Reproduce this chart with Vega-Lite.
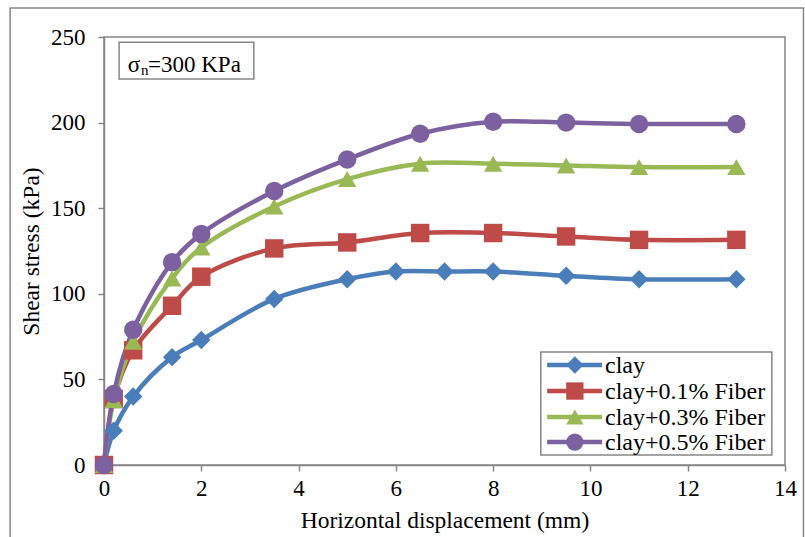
{
  "$schema": "https://vega.github.io/schema/vega-lite/v6.json",
  "autosize": "none",
  "width": 681,
  "height": 428,
  "padding": {"left": 104, "top": 37, "right": 20, "bottom": 72},
  "background": "white",
  "config": {
    "font": "Liberation Serif",
    "view": {"stroke": "#868686", "strokeWidth": 1.5},
    "axis": {"grid": false, "labelFlush": false, "domainColor": "#868686", "domainWidth": 1.5, "tickColor": "#868686", "tickWidth": 1.5, "tickSize": 6, "labelFont": "Liberation Serif", "labelFontSize": 23, "labelColor": "black", "titleFont": "Liberation Serif", "titleFontSize": 23.5, "titleFontWeight": "normal", "titleColor": "black"}
  },
  "datasets": {
    "series": [
      {"s": "clay", "x": 0, "y": 0}, {"s": "clay", "x": 0.2, "y": 20}, {"s": "clay", "x": 0.6, "y": 40}, {"s": "clay", "x": 1.4, "y": 63}, {"s": "clay", "x": 2, "y": 73}, {"s": "clay", "x": 3.5, "y": 97}, {"s": "clay", "x": 5, "y": 108.5}, {"s": "clay", "x": 6, "y": 113}, {"s": "clay", "x": 7, "y": 113}, {"s": "clay", "x": 8, "y": 113}, {"s": "clay", "x": 9.5, "y": 110.5}, {"s": "clay", "x": 11, "y": 108.5}, {"s": "clay", "x": 13, "y": 108.5},
      {"s": "clay+0.1% Fiber", "x": 0, "y": 0}, {"s": "clay+0.1% Fiber", "x": 0.2, "y": 38.5}, {"s": "clay+0.1% Fiber", "x": 0.6, "y": 67}, {"s": "clay+0.1% Fiber", "x": 1.4, "y": 93}, {"s": "clay+0.1% Fiber", "x": 2, "y": 110}, {"s": "clay+0.1% Fiber", "x": 3.5, "y": 126.5}, {"s": "clay+0.1% Fiber", "x": 5, "y": 130}, {"s": "clay+0.1% Fiber", "x": 6.5, "y": 135.5}, {"s": "clay+0.1% Fiber", "x": 8, "y": 135.5}, {"s": "clay+0.1% Fiber", "x": 9.5, "y": 133.5}, {"s": "clay+0.1% Fiber", "x": 11, "y": 131.5}, {"s": "clay+0.1% Fiber", "x": 13, "y": 131.5},
      {"s": "clay+0.3% Fiber", "x": 0, "y": 0}, {"s": "clay+0.3% Fiber", "x": 0.2, "y": 38}, {"s": "clay+0.3% Fiber", "x": 0.6, "y": 72}, {"s": "clay+0.3% Fiber", "x": 1.4, "y": 109}, {"s": "clay+0.3% Fiber", "x": 2, "y": 127}, {"s": "clay+0.3% Fiber", "x": 3.5, "y": 151}, {"s": "clay+0.3% Fiber", "x": 5, "y": 167}, {"s": "clay+0.3% Fiber", "x": 6.5, "y": 176}, {"s": "clay+0.3% Fiber", "x": 8, "y": 176}, {"s": "clay+0.3% Fiber", "x": 9.5, "y": 175}, {"s": "clay+0.3% Fiber", "x": 11, "y": 174}, {"s": "clay+0.3% Fiber", "x": 13, "y": 174},
      {"s": "clay+0.5% Fiber", "x": 0, "y": 0}, {"s": "clay+0.5% Fiber", "x": 0.2, "y": 41.5}, {"s": "clay+0.5% Fiber", "x": 0.6, "y": 79}, {"s": "clay+0.5% Fiber", "x": 1.4, "y": 118.5}, {"s": "clay+0.5% Fiber", "x": 2, "y": 135}, {"s": "clay+0.5% Fiber", "x": 3.5, "y": 160}, {"s": "clay+0.5% Fiber", "x": 5, "y": 178.5}, {"s": "clay+0.5% Fiber", "x": 6.5, "y": 193.5}, {"s": "clay+0.5% Fiber", "x": 8, "y": 200.5}, {"s": "clay+0.5% Fiber", "x": 9.5, "y": 200}, {"s": "clay+0.5% Fiber", "x": 11, "y": 199.2}, {"s": "clay+0.5% Fiber", "x": 13, "y": 199.2}
    ],
    "legend": [
      {"s": "clay", "y": 58.4, "x1": 9.11, "xm": 9.68, "x2": 10.24, "xt": 10.3},
      {"s": "clay+0.1% Fiber", "y": 43.2, "x1": 9.11, "xm": 9.68, "x2": 10.24, "xt": 10.3},
      {"s": "clay+0.3% Fiber", "y": 28.0, "x1": 9.11, "xm": 9.68, "x2": 10.24, "xt": 10.3},
      {"s": "clay+0.5% Fiber", "y": 13.4, "x1": 9.11, "xm": 9.68, "x2": 10.24, "xt": 10.3}
    ]
  },
  "layer": [
    {
      "data": {"values": [{"x1": -1.93, "x2": 14.38, "y1": 267, "y2": -46}]},
      "mark": {"type": "rect", "fill": null, "stroke": "#868686", "strokeWidth": 1.5, "clip": false},
      "encoding": {
        "x": {"field": "x1", "type": "quantitative", "scale": {"domain": [0, 14]}},
        "x2": {"field": "x2"},
        "y": {"field": "y1", "type": "quantitative", "scale": {"domain": [0, 250]}},
        "y2": {"field": "y2"}
      }
    },
    {
      "data": {"name": "series"},
      "mark": {"type": "line", "interpolate": "catmull-rom", "strokeWidth": 4.5},
      "encoding": {
        "x": {"field": "x", "type": "quantitative", "scale": {"domain": [0, 14], "nice": false}, "axis": {"values": [0, 2, 4, 6, 8, 10, 12, 14], "title": "Horizontal displacement (mm)", "labelPadding": 6, "titlePadding": 8}},
        "y": {"field": "y", "type": "quantitative", "scale": {"domain": [0, 250], "nice": false}, "axis": {"values": [0, 50, 100, 150, 200, 250], "title": "Shear stress (kPa)", "labelPadding": 13, "titlePadding": 7}},
        "color": {"field": "s", "type": "nominal", "scale": {"domain": ["clay", "clay+0.1% Fiber", "clay+0.3% Fiber", "clay+0.5% Fiber"], "range": ["#4A7EBB", "#BE4B48", "#98B954", "#7D60A0"]}, "legend": null},
        "detail": {"field": "s"}
      }
    },
    {
      "data": {"name": "series"},
      "mark": {"type": "point", "filled": true, "opacity": 1, "size": 340},
      "encoding": {
        "x": {"field": "x", "type": "quantitative"},
        "y": {"field": "y", "type": "quantitative"},
        "color": {"field": "s", "type": "nominal", "legend": null},
        "shape": {"field": "s", "type": "nominal", "scale": {"domain": ["clay", "clay+0.1% Fiber", "clay+0.3% Fiber", "clay+0.5% Fiber"], "range": ["diamond", "square", "triangle-up", "circle"]}, "legend": null}
      }
    },
    {
      "data": {"values": [{"x1": 0.31, "x2": 3.08, "y1": 247, "y2": 225.5}]},
      "mark": {"type": "rect", "fill": "white", "stroke": "#868686", "strokeWidth": 1.5},
      "encoding": {
        "x": {"field": "x1", "type": "quantitative"},
        "x2": {"field": "x2"},
        "y": {"field": "y1", "type": "quantitative"},
        "y2": {"field": "y2"}
      }
    },
    {
      "data": {"values": [{"t": "σ", "x": 0.49, "y": 229.6}, {"t": "=300 KPa", "x": 0.905, "y": 229.6}]},
      "mark": {"type": "text", "align": "left", "baseline": "alphabetic", "fontSize": 23, "font": "Liberation Serif", "color": "black"},
      "encoding": {
        "x": {"field": "x", "type": "quantitative"},
        "y": {"field": "y", "type": "quantitative"},
        "text": {"field": "t"}
      }
    },
    {
      "data": {"values": [{"t": "n", "x": 0.76, "y": 227.6}]},
      "mark": {"type": "text", "align": "left", "baseline": "alphabetic", "fontSize": 15, "font": "Liberation Serif", "color": "black"},
      "encoding": {
        "x": {"field": "x", "type": "quantitative"},
        "y": {"field": "y", "type": "quantitative"},
        "text": {"field": "t"}
      }
    },
    {
      "data": {"values": [{"x1": 8.98, "x2": 13.73, "y1": 66, "y2": 5.8}]},
      "mark": {"type": "rect", "fill": "white", "stroke": "#868686", "strokeWidth": 1.5},
      "encoding": {
        "x": {"field": "x1", "type": "quantitative"},
        "x2": {"field": "x2"},
        "y": {"field": "y1", "type": "quantitative"},
        "y2": {"field": "y2"}
      }
    },
    {
      "data": {"name": "legend"},
      "mark": {"type": "rule", "strokeWidth": 4.5},
      "encoding": {
        "x": {"field": "x1", "type": "quantitative"},
        "x2": {"field": "x2"},
        "y": {"field": "y", "type": "quantitative"},
        "color": {"field": "s", "type": "nominal", "legend": null}
      }
    },
    {
      "data": {"name": "legend"},
      "mark": {"type": "point", "filled": true, "opacity": 1, "size": 300},
      "encoding": {
        "x": {"field": "xm", "type": "quantitative"},
        "y": {"field": "y", "type": "quantitative"},
        "color": {"field": "s", "type": "nominal", "legend": null},
        "shape": {"field": "s", "type": "nominal", "legend": null}
      }
    },
    {
      "data": {"name": "legend"},
      "mark": {"type": "text", "align": "left", "baseline": "middle", "fontSize": 24, "font": "Liberation Serif", "color": "black", "dy": 1},
      "encoding": {
        "x": {"field": "xt", "type": "quantitative"},
        "y": {"field": "y", "type": "quantitative"},
        "text": {"field": "s"}
      }
    }
  ]
}
